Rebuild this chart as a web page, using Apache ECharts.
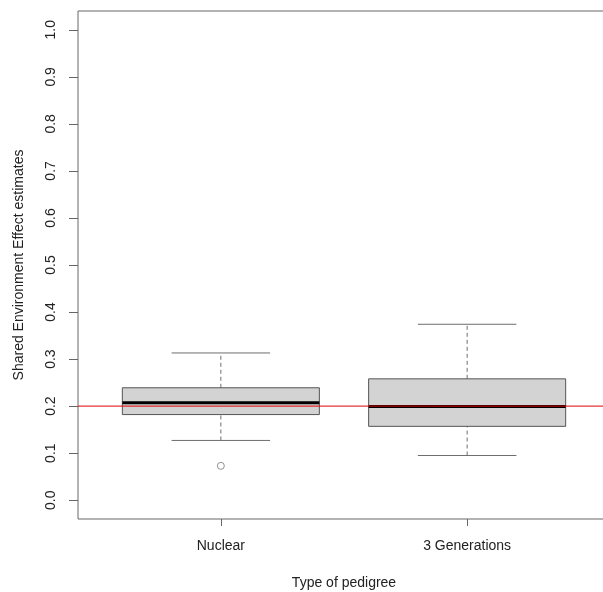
<!DOCTYPE html>
<html>
<head>
<meta charset="utf-8">
<script src="https://cdn.jsdelivr.net/npm/echarts@6/dist/echarts.min.js"></script>
<style>
  html, body { margin: 0; padding: 0; background: #fff; }
  #chart { width: 603px; height: 592px; }
</style>
</head>
<body>
<div id="chart"></div>
<script>
// Pedigree types and their box summaries (whisker low, Q1, median, Q3, whisker high)
var categories = ['Nuclear', '3 Generations'];
var whiskerLow = [0.127, 0.095];
var quartile1 = [0.182, 0.157];
var medians = [0.207, 0.199];
var quartile3 = [0.239, 0.258];
var whiskerHigh = [0.313, 0.374];
// Points beyond the whiskers: [category index, value]
var outliers = [[0, 0.073]];
// Reference value for the shared environment effect
var referenceValue = 0.2;
// Y tick labels
var yTicks = [0.0, 0.1, 0.2, 0.3, 0.4, 0.5, 0.6, 0.7, 0.8, 0.9, 1.0];

var X_MIN = 0.42, X_MAX = 2.58;
var BOX_HALF = 0.4;
var CAP_HALF = 0.2;
var FONT = 'Liberation Sans, Arial, sans-serif';

var boxData = categories.map(function (c, i) {
  return [i + 1, whiskerLow[i], quartile1[i], medians[i], quartile3[i], whiskerHigh[i]];
});
var outlierData = outliers.map(function (o) { return [o[0] + 1, o[1]]; });
var refLineData = [[X_MIN, referenceValue], [X_MAX, referenceValue]];

function renderBox(params, api) {
  var x = api.value(0);
  var pLow = api.coord([x, api.value(1)]);
  var pQ1 = api.coord([x, api.value(2)]);
  var pMed = api.coord([x, api.value(3)]);
  var pQ3 = api.coord([x, api.value(4)]);
  var pHigh = api.coord([x, api.value(5)]);
  var boxHalf = api.size([BOX_HALF, 0])[0];
  var capHalf = api.size([CAP_HALF, 0])[0];
  var cx = pMed[0];
  var grey = '#6e6e6e';
  return {
    type: 'group',
    children: [
      { type: 'line', shape: { x1: cx, y1: pQ3[1], x2: cx, y2: pHigh[1] },
        style: { stroke: grey, lineWidth: 1, lineDash: [4, 3] } },
      { type: 'line', shape: { x1: cx, y1: pLow[1], x2: cx, y2: pQ1[1] },
        style: { stroke: grey, lineWidth: 1, lineDash: [4, 3] } },
      { type: 'line', shape: { x1: cx - capHalf, y1: pHigh[1], x2: cx + capHalf, y2: pHigh[1] },
        style: { stroke: grey, lineWidth: 1 } },
      { type: 'line', shape: { x1: cx - capHalf, y1: pLow[1], x2: cx + capHalf, y2: pLow[1] },
        style: { stroke: grey, lineWidth: 1 } },
      { type: 'rect', shape: { x: cx - boxHalf, y: pQ3[1], width: 2 * boxHalf, height: pQ1[1] - pQ3[1] },
        style: { fill: '#d3d3d3', stroke: '#555', lineWidth: 1 } },
      { type: 'line', shape: { x1: cx - boxHalf, y1: pMed[1], x2: cx + boxHalf, y2: pMed[1] },
        style: { stroke: '#000', lineWidth: 3 } }
    ]
  };
}

var chart = echarts.init(document.getElementById('chart'), null, { renderer: 'canvas' });
chart.setOption({
  animation: false,
  backgroundColor: '#fff',
  textStyle: { fontFamily: FONT },
  grid: {
    left: 78, top: 11, bottom: 73, right: -7,
    outerBoundsMode: 'none', containLabel: false,
    show: true, borderColor: '#666', borderWidth: 1, backgroundColor: 'transparent'
  },
  xAxis: {
    type: 'value', min: X_MIN, max: X_MAX,
    name: 'Type of pedigree', nameLocation: 'middle', nameGap: 57,
    nameTextStyle: { fontSize: 14, color: '#222', fontFamily: FONT },
    splitLine: { show: false },
    axisLine: { show: false, onZero: false },
    axisTick: { show: true, length: 7, lineStyle: { color: '#666' }, customValues: [1, 2] },
    axisLabel: {
      fontSize: 14, color: '#222', fontFamily: FONT, margin: 20,
      customValues: [1, 2],
      formatter: function (v) { return categories[Math.round(v) - 1] || ''; }
    }
  },
  yAxis: {
    type: 'value', min: -0.04, max: 1.04,
    name: 'Shared Environment Effect estimates', nameLocation: 'middle', nameGap: 52,
    nameTextStyle: { fontSize: 14, color: '#222', fontFamily: FONT },
    splitLine: { show: false },
    axisLine: { show: false, onZero: false },
    axisTick: { show: true, length: 9, lineStyle: { color: '#666' }, customValues: yTicks },
    axisLabel: {
      fontSize: 14, color: '#222', fontFamily: FONT, rotate: 90, margin: 20,
      customValues: yTicks,
      formatter: function (v) { return v.toFixed(1); }
    }
  },
  series: [
    {
      type: 'custom',
      renderItem: renderBox,
      data: boxData,
      z: 2,
      encode: { x: 0, y: [1, 2, 3, 4, 5] }
    },
    {
      type: 'scatter',
      data: outlierData,
      symbol: 'circle', symbolSize: 7,
      itemStyle: { color: '#fff', borderColor: '#777', borderWidth: 1 },
      z: 3
    },
    {
      type: 'line',
      data: refLineData,
      z: 5,
      silent: true,
      showSymbol: false,
      symbol: 'none',
      color: '#e00000',
      lineStyle: { color: '#e00000', width: 1 }
    }
  ]
});
</script>
</body>
</html>
